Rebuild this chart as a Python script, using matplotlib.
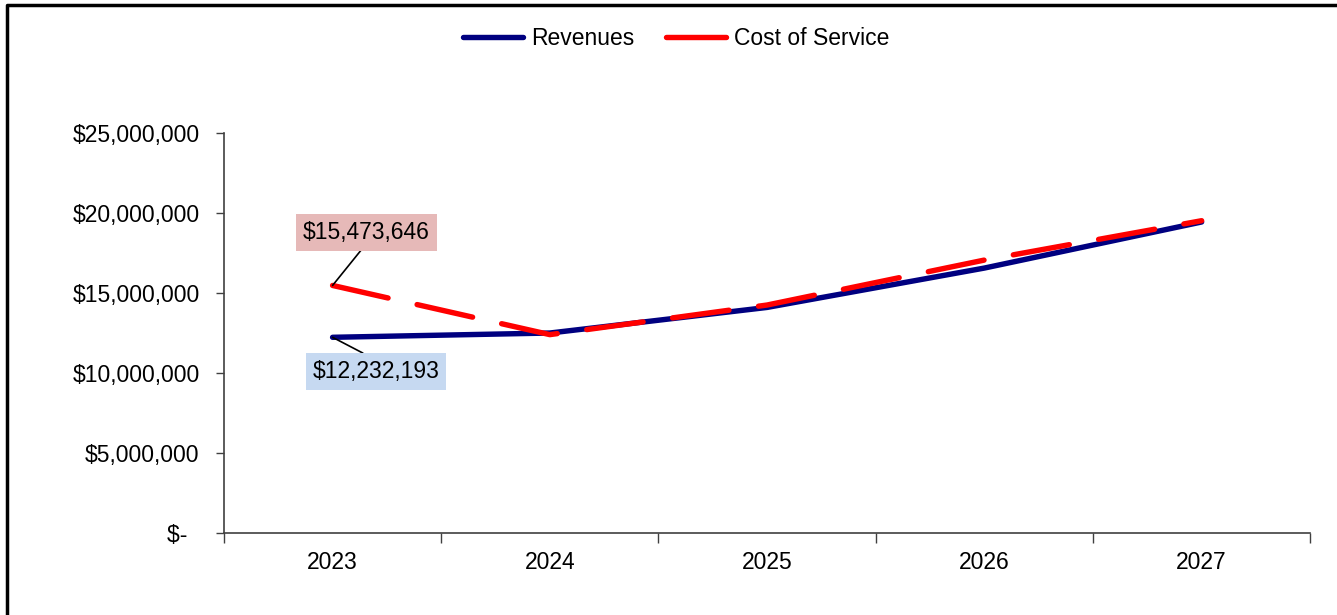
import matplotlib.pyplot as plt
from matplotlib.lines import Line2D
from matplotlib.ticker import FuncFormatter, FixedLocator

plt.rcParams['font.family'] = ['Liberation Sans', 'DejaVu Sans']

years = ['2023', '2024', '2025', '2026', '2027']
revenues = [12232193, 12500000, 14100000, 16560000, 19440000]
cost_of_service = [15473646, 12400000, 14250000, 17060000, 19520000]

fig = plt.figure(figsize=(13.37, 6.15), dpi=100)
ax = fig.add_axes([0.1675, 0.1333, 0.8125, 0.6504])

x = list(range(len(years)))
ax.plot(x, revenues, color='#000080', lw=3.9, solid_capstyle='round', zorder=3,
        label='Revenues')
ax.plot(x, cost_of_service, color='#ff0000', lw=3.9, dashes=(10.5, 5.5),
        dash_capstyle='round', zorder=4, label='Cost of Service')

ax.set_xlim(-0.5, len(years) - 0.5)
ax.set_ylim(0, 25000000)
ax.set_yticks(range(0, 25000001, 5000000))


def money(v, pos):
    if v == 0:
        return '$-  '
    return '${:,.0f}'.format(v)


ax.yaxis.set_major_formatter(FuncFormatter(money))

# category boundaries carry the ticks, labels sit between them
ax.xaxis.set_major_locator(FixedLocator([i - 0.5 for i in range(len(years) + 1)]))
ax.xaxis.set_minor_locator(FixedLocator(x))
ax.xaxis.set_major_formatter(FuncFormatter(lambda v, p: ''))
ax.set_xticklabels(years, minor=True)

ax.tick_params(axis='x', which='major', length=7, width=1, color='#404040', direction='out')
ax.tick_params(axis='x', which='minor', length=0, pad=13, labelsize=16.5)
ax.tick_params(axis='y', length=6, width=1, color='#404040', pad=11.5, labelsize=16.5)

for side in ('top', 'right'):
    ax.spines[side].set_visible(False)
for side in ('left', 'bottom'):
    ax.spines[side].set_color('#404040')
    ax.spines[side].set_linewidth(1.2)

# data labels for the first year
ax.annotate('${:,.0f}'.format(cost_of_service[0]), xy=(0, cost_of_service[0]),
            xytext=(0.155, 18800000), ha='center', va='center', fontsize=16.5,
            bbox=dict(boxstyle='square,pad=0.3', fc='#e6b9b8', ec='none'),
            arrowprops=dict(arrowstyle='-', color='black', lw=1.2, shrinkA=0, shrinkB=0,
                            relpos=(0.5, 0)), zorder=5)
ax.annotate('${:,.0f}'.format(revenues[0]), xy=(0, revenues[0]),
            xytext=(0.2, 10100000), ha='center', va='center', fontsize=16.5,
            bbox=dict(boxstyle='square,pad=0.3', fc='#c6d9f1', ec='none'),
            arrowprops=dict(arrowstyle='-', color='black', lw=1.2, shrinkA=0, shrinkB=0,
                            relpos=(0.5, 1)), zorder=5)

handles = [Line2D([], [], color='#000080', lw=3.9, solid_capstyle='round'),
           Line2D([], [], color='#ff0000', lw=3.9, solid_capstyle='round')]
fig.legend(handles, ['Revenues', 'Cost of Service'], loc='center',
           bbox_to_anchor=(0.5056, 0.938), ncol=2, frameon=False, fontsize=16.5,
           handlelength=2.6, handletextpad=0.35, columnspacing=1.4)

# outer frame of the chart area
fig.add_artist(Line2D([0.0055, 0.0055, 1.0], [0.0, 0.9915, 0.9915],
                      transform=fig.transFigure, color='black', lw=2.5))

fig.savefig('out.png', dpi=100)
